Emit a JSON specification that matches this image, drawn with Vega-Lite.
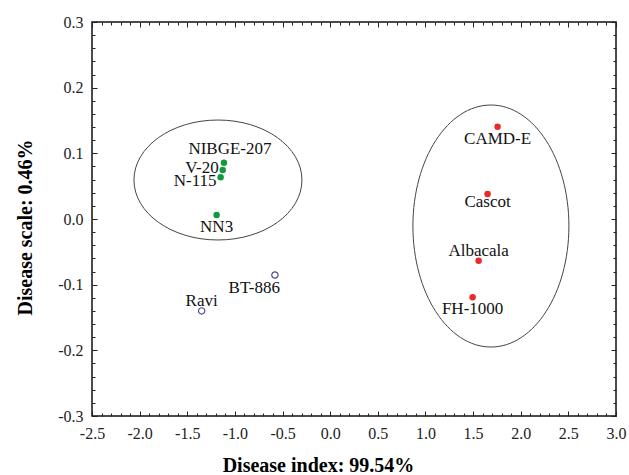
{
  "$schema": "https://vega.github.io/schema/vega-lite/v6.json",
  "width": 524,
  "height": 394,
  "autosize": "none",
  "padding": {"left": 92, "top": 22, "right": 13, "bottom": 59},
  "background": "white",
  "config": {
    "view": {"stroke": "#111", "strokeWidth": 1.5},
    "font": "Liberation Serif",
    "axis": {
      "labelFont": "Liberation Serif",
      "labelFontSize": 16,
      "labelColor": "#222",
      "titleFont": "Liberation Serif",
      "titleFontSize": 20,
      "titleFontWeight": "bold",
      "titleColor": "#000",
      "tickColor": "#222",
      "tickWidth": 1,
      "gridColor": "#e4e4e4",
      "gridWidth": 1,
      "domain": false
    }
  },
  "datasets": {
    "genotypes": [
      {"genotype": "NIBGE-207", "index": -1.115, "scale": 0.0857, "group": "green"},
      {"genotype": "V-20", "index": -1.128, "scale": 0.0746, "group": "green"},
      {"genotype": "N-115", "index": -1.15, "scale": 0.0635, "group": "green"},
      {"genotype": "NN3", "index": -1.192, "scale": 0.006, "group": "green"},
      {"genotype": "BT-886", "index": -0.58, "scale": -0.0853, "group": "open"},
      {"genotype": "Ravi", "index": -1.349, "scale": -0.14, "group": "open"},
      {"genotype": "CAMD-E", "index": 1.757, "scale": 0.1406, "group": "red"},
      {"genotype": "Cascot", "index": 1.652, "scale": 0.038, "group": "red"},
      {"genotype": "Albacala", "index": 1.558, "scale": -0.0635, "group": "red"},
      {"genotype": "FH-1000", "index": 1.495, "scale": -0.119, "group": "red"}
    ],
    "clusters": [
      {"cluster": "left", "cx": -1.178, "cy": 0.0594},
      {"cluster": "right", "cx": 1.687, "cy": -0.0107}
    ]
  },
  "data": {"name": "genotypes"},
  "resolve": {"axis": {"x": "independent", "y": "independent"}},
  "layer": [
    {
      "data": {"name": "clusters"},
      "transform": [{"filter": "datum.cluster == 'left'"}],
      "mark": {
        "type": "point",
        "shape": "M1,0C1,0.3944 0.5523,0.714 0,0.714C-0.5523,0.714 -1,0.3944 -1,0C-1,-0.3944 -0.5523,-0.714 0,-0.714C0.5523,-0.714 1,-0.3944 1,0Z",
        "size": 28224,
        "filled": false,
        "stroke": "#444",
        "strokeWidth": 1,
        "opacity": 1
      },
      "encoding": {
        "x": {
          "field": "cx", "type": "quantitative",
          "scale": {"domain": [-2.5, 3.0], "nice": false, "zero": false},
          "axis": {
            "orient": "top",
            "values": [-2.5,-2.4,-2.3,-2.2,-2.1,-2.0,-1.9,-1.8,-1.7,-1.6,-1.5,-1.4,-1.3,-1.2,-1.1,-1.0,-0.9,-0.8,-0.7,-0.6,-0.5,-0.4,-0.3,-0.2,-0.1,0,0.1,0.2,0.3,0.4,0.5,0.6,0.7,0.8,0.9,1.0,1.1,1.2,1.3,1.4,1.5,1.6,1.7,1.8,1.9,2.0,2.1,2.2,2.3,2.4,2.5,2.6,2.7,2.8,2.9,3.0],
            "labels": false,
            "grid": false,
            "title": null,
            "tickSize": {"condition": {"test": "abs(datum.value*2-round(datum.value*2))<0.001", "value": -5}, "value": -3}
          }
        },
        "y": {
          "field": "cy", "type": "quantitative",
          "scale": {"domain": [-0.3, 0.3], "nice": false, "zero": false},
          "axis": {
            "orient": "right",
            "values": [-0.3,-0.28,-0.26,-0.24,-0.22,-0.2,-0.18,-0.16,-0.14,-0.12,-0.1,-0.08,-0.06,-0.04,-0.02,0,0.02,0.04,0.06,0.08,0.1,0.12,0.14,0.16,0.18,0.2,0.22,0.24,0.26,0.28,0.3],
            "labels": false,
            "grid": false,
            "title": null,
            "tickSize": {"condition": {"test": "abs(datum.value*10-round(datum.value*10))<0.001", "value": -5}, "value": -3}
          }
        }
      }
    },
    {
      "data": {"name": "clusters"},
      "transform": [{"filter": "datum.cluster == 'right'"}],
      "mark": {
        "type": "point",
        "shape": "M0.6446,0C0.6446,0.5523 0.356,1 0,1C-0.356,1 -0.6446,0.5523 -0.6446,0C-0.6446,-0.5523 -0.356,-1 0,-1C0.356,-1 0.6446,-0.5523 0.6446,0Z",
        "size": 58564,
        "filled": false,
        "stroke": "#444",
        "strokeWidth": 1,
        "opacity": 1
      },
      "encoding": {
        "x": {"field": "cx", "type": "quantitative", "axis": null},
        "y": {"field": "cy", "type": "quantitative", "axis": null}
      }
    },
    {
      "transform": [{"filter": "datum.group != 'open'"}],
      "mark": {"type": "circle", "size": 42, "opacity": 1},
      "encoding": {
        "x": {
          "field": "index", "type": "quantitative",
          "axis": {
            "orient": "bottom",
            "values": [-2.5,-2.4,-2.3,-2.2,-2.1,-2.0,-1.9,-1.8,-1.7,-1.6,-1.5,-1.4,-1.3,-1.2,-1.1,-1.0,-0.9,-0.8,-0.7,-0.6,-0.5,-0.4,-0.3,-0.2,-0.1,0,0.1,0.2,0.3,0.4,0.5,0.6,0.7,0.8,0.9,1.0,1.1,1.2,1.3,1.4,1.5,1.6,1.7,1.8,1.9,2.0,2.1,2.2,2.3,2.4,2.5,2.6,2.7,2.8,2.9,3.0],
            "labelExpr": "abs(datum.value*2-round(datum.value*2))<0.001 ? (datum.value < -0.001 ? '-' : '') + format(abs(datum.value), '.1f') : ''",
            "labelOverlap": false,
            "labelFlush": false,
            "tickSize": {"condition": {"test": "abs(datum.value*2-round(datum.value*2))<0.001", "value": -5}, "value": -3},
            "gridOpacity": {"condition": {"test": "abs(datum.value*2-round(datum.value*2))<0.001", "value": 1}, "value": 0},
            "labelPadding": 14,
            "title": "Disease index: 99.54%",
            "titleX": 226,
            "titleY": 49,
            "titleAlign": "center",
            "titleBaseline": "middle",
            "titleAnchor": null
          }
        },
        "y": {
          "field": "scale", "type": "quantitative",
          "axis": {
            "orient": "left",
            "values": [-0.3,-0.28,-0.26,-0.24,-0.22,-0.2,-0.18,-0.16,-0.14,-0.12,-0.1,-0.08,-0.06,-0.04,-0.02,0,0.02,0.04,0.06,0.08,0.1,0.12,0.14,0.16,0.18,0.2,0.22,0.24,0.26,0.28,0.3],
            "labelExpr": "abs(datum.value*10-round(datum.value*10))<0.001 ? (datum.value < -0.001 ? '-' : '') + format(abs(datum.value), '.1f') : ''",
            "labelOverlap": false,
            "labelFlush": false,
            "tickSize": {"condition": {"test": "abs(datum.value*10-round(datum.value*10))<0.001", "value": -5}, "value": -3},
            "gridOpacity": {"condition": {"test": "abs(datum.value*10-round(datum.value*10))<0.001", "value": 1}, "value": 0},
            "labelPadding": 14,
            "title": "Disease scale: 0.46%",
            "titleX": -67,
            "titleY": 205,
            "titleAlign": "center",
            "titleBaseline": "middle",
            "titleAngle": -90,
            "titleAnchor": null
          }
        },
        "color": {
          "field": "group", "type": "nominal",
          "scale": {"domain": ["green", "red"], "range": ["#13993d", "#ea2a2a"]},
          "legend": null
        }
      }
    },
    {
      "transform": [{"filter": "datum.group == 'open'"}],
      "mark": {"type": "point", "size": 40, "filled": false, "stroke": "#4a4a96", "strokeWidth": 1.2, "opacity": 1},
      "encoding": {
        "x": {"field": "index", "type": "quantitative", "axis": null},
        "y": {"field": "scale", "type": "quantitative", "axis": null}
      }
    },
    {
      "transform": [{"filter": {"field": "genotype", "oneOf": ["Albacala", "Ravi"]}}],
      "mark": {"type": "text", "font": "Liberation Serif", "fontSize": 17, "color": "#111", "align": "center", "baseline": "middle", "dy": -10},
      "encoding": {
        "x": {"field": "index", "type": "quantitative", "axis": null},
        "y": {"field": "scale", "type": "quantitative", "axis": null},
        "text": {"field": "genotype"}
      }
    },
    {
      "transform": [{"filter": {"field": "genotype", "oneOf": ["NIBGE-207"]}}],
      "mark": {"type": "text", "font": "Liberation Serif", "fontSize": 17, "color": "#111", "align": "center", "baseline": "middle", "dx": 6, "dy": -14},
      "encoding": {
        "x": {"field": "index", "type": "quantitative", "axis": null},
        "y": {"field": "scale", "type": "quantitative", "axis": null},
        "text": {"field": "genotype"}
      }
    },
    {
      "transform": [{"filter": {"field": "genotype", "oneOf": ["NN3", "CAMD-E", "FH-1000"]}}],
      "mark": {"type": "text", "font": "Liberation Serif", "fontSize": 17, "color": "#111", "align": "center", "baseline": "middle", "dy": 12},
      "encoding": {
        "x": {"field": "index", "type": "quantitative", "axis": null},
        "y": {"field": "scale", "type": "quantitative", "axis": null},
        "text": {"field": "genotype"}
      }
    },
    {
      "transform": [{"filter": {"field": "genotype", "oneOf": ["Cascot"]}}],
      "mark": {"type": "text", "font": "Liberation Serif", "fontSize": 17, "color": "#111", "align": "center", "baseline": "middle", "dy": 8},
      "encoding": {
        "x": {"field": "index", "type": "quantitative", "axis": null},
        "y": {"field": "scale", "type": "quantitative", "axis": null},
        "text": {"field": "genotype"}
      }
    },
    {
      "transform": [{"filter": {"field": "genotype", "oneOf": ["V-20"]}}],
      "mark": {"type": "text", "font": "Liberation Serif", "fontSize": 17, "color": "#111", "align": "right", "baseline": "middle", "dx": -4, "dy": -2},
      "encoding": {
        "x": {"field": "index", "type": "quantitative", "axis": null},
        "y": {"field": "scale", "type": "quantitative", "axis": null},
        "text": {"field": "genotype"}
      }
    },
    {
      "transform": [{"filter": {"field": "genotype", "oneOf": ["N-115"]}}],
      "mark": {"type": "text", "font": "Liberation Serif", "fontSize": 17, "color": "#111", "align": "right", "baseline": "middle", "dx": -4, "dy": 4},
      "encoding": {
        "x": {"field": "index", "type": "quantitative", "axis": null},
        "y": {"field": "scale", "type": "quantitative", "axis": null},
        "text": {"field": "genotype"}
      }
    },
    {
      "transform": [{"filter": {"field": "genotype", "oneOf": ["BT-886"]}}],
      "mark": {"type": "text", "font": "Liberation Serif", "fontSize": 17, "color": "#111", "align": "right", "baseline": "middle", "dx": 5, "dy": 13},
      "encoding": {
        "x": {"field": "index", "type": "quantitative", "axis": null},
        "y": {"field": "scale", "type": "quantitative", "axis": null},
        "text": {"field": "genotype"}
      }
    }
  ]
}
